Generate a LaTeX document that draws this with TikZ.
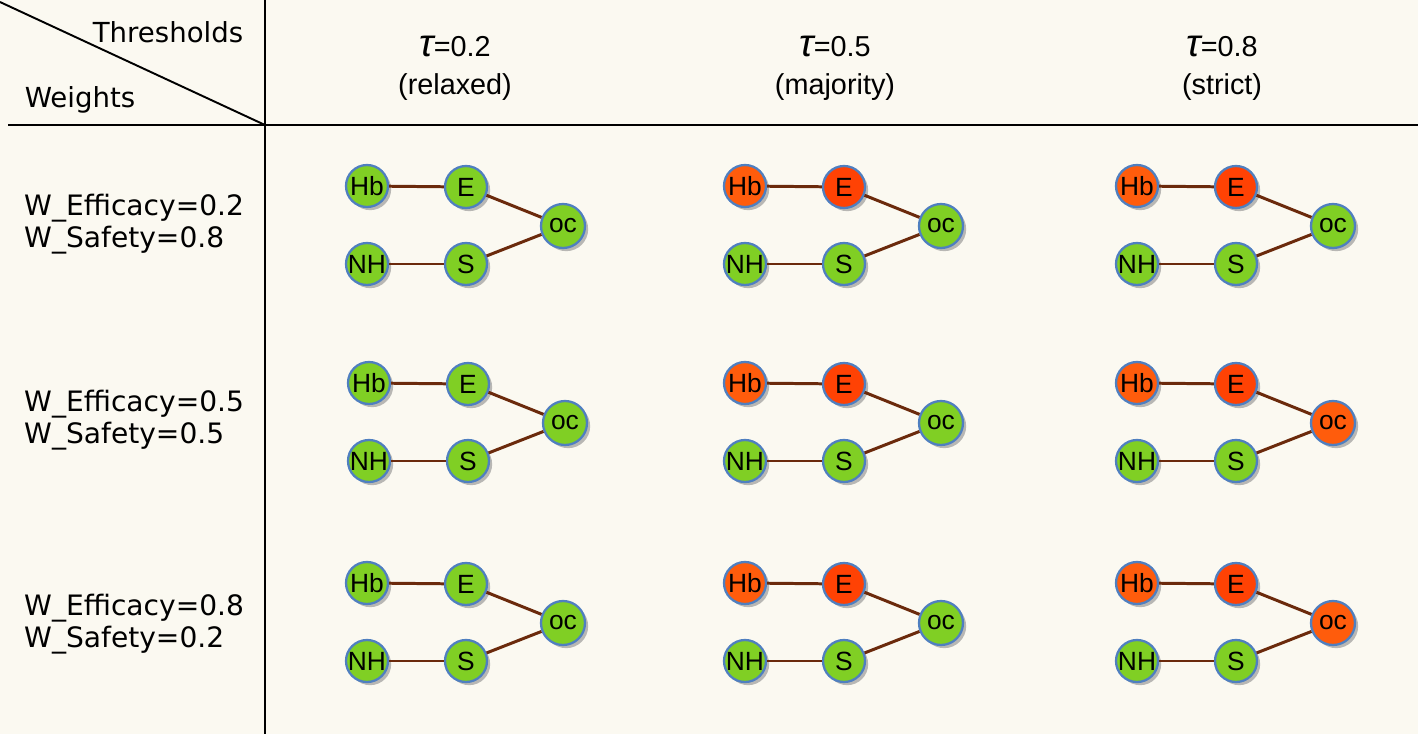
\documentclass[tikz,border=0pt]{standalone}
\usepackage{fontspec}
\setmainfont{DejaVu Sans}
\newfontfamily\arialish{Liberation Sans}
\usetikzlibrary{shadows}
\definecolor{bg}{HTML}{FBF9F1}
\definecolor{ok}{HTML}{80CF24}
\definecolor{warn}{HTML}{FF5C0C}
\definecolor{bad}{HTML}{FF4204}
\definecolor{rim}{HTML}{4F7FC0}
\definecolor{link}{HTML}{6B2A0C}
\tikzset{
  var/.style={circle,draw=rim,line width=1.3pt,minimum size=0.84cm,inner sep=0pt,
    font=\arialish\fontsize{15}{15}\selectfont,
    drop shadow={shadow xshift=1.8pt,shadow yshift=-1.8pt,fill=black!45,opacity=0.6}},
  link/.style={draw=link,line width=1.7pt},
  rule/.style={line width=1.1pt}
}
\begin{document}
\begin{tikzpicture}
      [x=0.02cm,y=-0.02cm]
      \useasboundingbox[fill=bg] (0,0) rectangle (1418,734);
      \draw[rule] (8,125) -- (1418,125);
      \draw[rule] (265,0) -- (265,734);
      \draw[rule] (0,2) -- (265,125);
      \node[font=\fontsize{15.7}{15.7}\selectfont] (thr) at (168,32) {Thresholds};
      \node[font=\fontsize{15.7}{15.7}\selectfont] (wgt) at (80,100) {Weights};
      \foreach \c/\x/\t/\m in {1/455/0.2/relaxed, 2/835/0.5/majority, 3/1222/0.8/strict} {
        \node[align=center,font=\arialish\fontsize{16.4}{21.6}\selectfont] (tau\c) at (\x,68)
          {{\fontsize{22}{21.6}\selectfont\itshape τ}=\t\\(\m)};
      }
      \foreach \r/\y/\we/\ws in {1/224/0.2/0.8, 2/420/0.5/0.5, 3/624/0.8/0.2} {
        \node[anchor=west,align=left,font=\fontsize{16}{18.2}\selectfont] (w\r) at (18,\y)
          {W\_Efficacy=\we\\W\_Safety=\ws};
      }
      \foreach \r/\c/\x/\y/\ch/\ce/\co in {
          1/1/367/186/ok/ok/ok,     1/2/745/186/warn/bad/ok,  1/3/1137/186/warn/bad/ok,
          2/1/369/383/ok/ok/ok,     2/2/745/383/warn/bad/ok,  2/3/1137/383/warn/bad/warn,
          3/1/367/583/ok/ok/ok,     3/2/745/583/warn/bad/ok,  3/3/1137/583/warn/bad/warn} {
        \node[var,fill=\ch] (Hb\r\c) at (\x,\y) {Hb};
        \node[var,fill=\ce] (E\r\c) at (\x+99,\y+1) {E};
        \node[var,fill=ok] (NH\r\c) at (\x,\y+78) {NH};
        \node[var,fill=ok] (S\r\c) at (\x+99,\y+78) {S};
        \node[var,fill=\co,minimum size=0.88cm] (oc\r\c) at (\x+196,\y+40) {oc};
        \draw[link] (Hb\r\c) -- (E\r\c);
        \draw[link] (NH\r\c) -- (S\r\c);
        \draw[link] (E\r\c) -- (oc\r\c);
        \draw[link] (S\r\c) -- (oc\r\c);
      }
    \end{tikzpicture}
\end{document}
